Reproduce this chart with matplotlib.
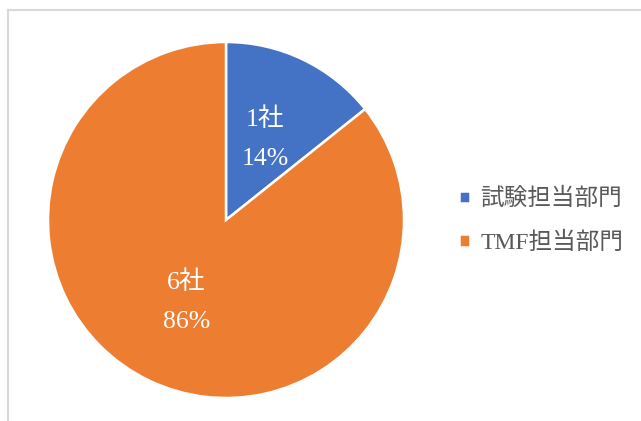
import matplotlib.pyplot as plt
from matplotlib.lines import Line2D

labels = ['試験担当部門', 'TMF担当部門']
counts = [1, 6]
colors = ['#4472C4', '#ED7D31']

font = ['Liberation Serif', 'Noto Sans CJK JP']
plt.rcParams['font.family'] = font

fig = plt.figure(figsize=(6.41, 4.21), dpi=100)

# chart frame (only top and left edges visible in the crop)
fig.add_artist(Line2D([8/641, 1], [1 - 10/421, 1 - 10/421], color='#D9D9D9', lw=1.5))
fig.add_artist(Line2D([8/641, 8/641], [0, 1 - 10/421], color='#D9D9D9', lw=1.5))

ax = fig.add_axes([48/641, 23/421, 356/641, 356/421])

total = sum(counts)
wedges, texts, autotexts = ax.pie(
    counts, colors=colors, startangle=90, counterclock=False,
    wedgeprops=dict(edgecolor='white', linewidth=1.8),
    autopct=lambda p: f"{round(p * total / 100)}社\n{p:.0f}%",
    pctdistance=0.51,
    textprops=dict(color='white', fontsize=18.5, linespacing=2.0))
ax.set_xlim(-1, 1)
ax.set_ylim(-1, 1)
ax.set_aspect('equal')

fig.legend(wedges, labels, loc='center left', bbox_to_anchor=(438/641, 1 - 221/421),
           frameon=False, fontsize=17, labelcolor='#595959',
           handlelength=0.45, handleheight=0.45, handletextpad=0.45,
           labelspacing=0.9)

fig.savefig('out.png', dpi=100)
